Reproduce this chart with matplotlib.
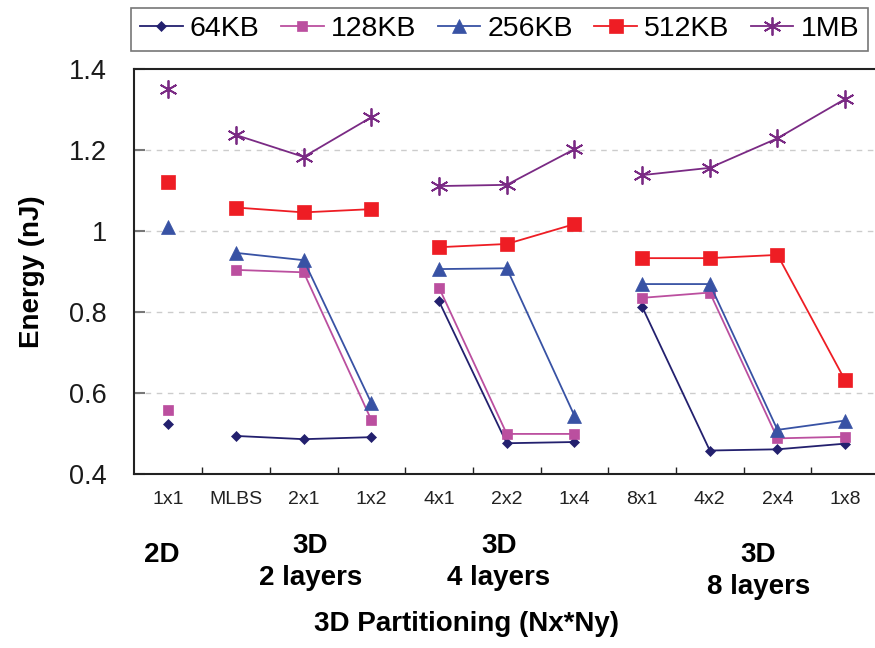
import matplotlib
matplotlib.use("Agg")
import matplotlib.pyplot as plt
import numpy as np

plt.rcParams['font.family'] = ['Liberation Sans', 'DejaVu Sans']

# x categories (3D partitions)
cats = ['1x1', 'MLBS', '2x1', '1x2', '4x1', '2x2', '1x4', '8x1', '4x2', '2x4', '1x8']
# which categories are joined by lines
groups = [[0], [1, 2, 3], [4, 5, 6], [7, 8, 9, 10]]
group_names = ['2D', '3D\n2 layers', '3D\n4 layers', '3D\n8 layers']

# energy (nJ) per cache size
e_64k = [0.524, 0.494, 0.486, 0.491, 0.826, 0.476, 0.479, 0.813, 0.458, 0.461, 0.475]
e_128k = [0.558, 0.904, 0.898, 0.533, 0.860, 0.499, 0.499, 0.835, 0.848, 0.488, 0.492]
e_256k = [1.011, 0.946, 0.928, 0.575, 0.906, 0.908, 0.544, 0.869, 0.869, 0.509, 0.532]
e_512k = [1.120, 1.058, 1.046, 1.054, 0.960, 0.968, 1.017, 0.933, 0.933, 0.941, 0.631]
e_1m = [1.350, 1.237, 1.183, 1.281, 1.111, 1.114, 1.202, 1.138, 1.156, 1.229, 1.326]

series = [
    ('64KB', e_64k, '#23206e', 'D', 5.5),
    ('128KB', e_128k, '#bb4f9f', 's', 6.5),
    ('256KB', e_256k, '#3852a4', '^', 10),
    ('512KB', e_512k, '#ee1d24', 's', 10),
    ('1MB', e_1m, '#7a2a84', (6, 2, 0), 13),
]

fig = plt.figure(figsize=(8.75, 6.48), dpi=100)
ax = fig.add_axes([0.1537, 0.2685, 0.8509, 0.625])

x = np.arange(len(cats))
handles = []
for name, vals, col, mk, ms in series:
    vals = np.array(vals)
    for g in groups:
        h, = ax.plot(x[g], vals[g], color=col, lw=1.3, marker=mk, ms=ms,
                     mec=col, mfc=col, mew=1.3 if mk == (6, 2, 0) else 0.5)
    handles.append(h)

ax.set_xlim(-0.5, 10.5)
ax.set_ylim(0.4, 1.4)
ax.set_yticks([0.4, 0.6, 0.8, 1.0, 1.2, 1.4])
ax.set_yticklabels(['0.4', '0.6', '0.8', '1', '1.2', '1.4'])
ax.tick_params(axis='y', direction='in', length=8, width=1.5, color='#777777',
               labelsize=19.5, pad=20, labelcolor='#1a1a1a')
ax.set_xticks(np.arange(0.5, 10, 1))
ax.set_xticklabels([])
ax.tick_params(axis='x', direction='in', length=5, width=1, color='#222222')
for v in [0.6, 0.8, 1.0, 1.2]:
    ax.axhline(v, color='#cccccc', lw=1, ls=(0, (4, 4)), zorder=0)
for s in ['left', 'bottom', 'top']:
    ax.spines[s].set_linewidth(1.5)
    ax.spines[s].set_color('#222222')

ax.set_ylabel('Energy (nJ)', fontsize=20, fontweight='bold', labelpad=17)

tr = ax.get_xaxis_transform()
for i, c in enumerate(cats):
    ax.text(i, -0.064, c, transform=tr, ha='center', va='center', fontsize=14, color='#222222')

gx = [-0.09, 2.1, 4.88, 8.72]
gy = [-0.2, -0.218, -0.218, -0.24]
for xx, yy, t in zip(gx, gy, group_names):
    ax.text(xx, yy, t, transform=tr, ha='center', va='center', fontsize=20,
            fontweight='bold', linespacing=1.3)
ax.text(4.4, -0.37, '3D Partitioning (Nx*Ny)', transform=tr, ha='center',
        va='center', fontsize=20, fontweight='bold')

leg = fig.legend(handles, [s[0] for s in series], loc='center', ncol=5,
                 bbox_to_anchor=(0.571, 0.955), fontsize=20.5, frameon=True,
                 fancybox=False, edgecolor='#555555', handlelength=1.5,
                 columnspacing=0.75, handletextpad=0.25, borderpad=0.3)
leg.get_frame().set_linewidth(1.2)

fig.savefig('out.png', dpi=100)
